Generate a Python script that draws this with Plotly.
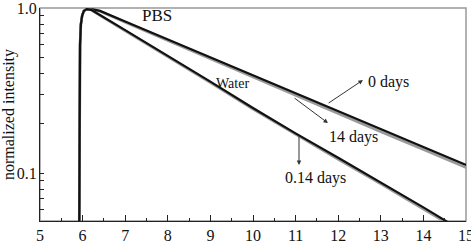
import math
import plotly.graph_objects as go

pbs_t = [5.92, 5.925, 5.93, 5.94, 5.96, 5.99, 6.03, 6.1, 6.2, 6.3, 6.41, 7, 8, 9, 10, 11, 12, 13, 14, 15]
pbs_0d = [0.04, 0.15, 0.35, 0.6, 0.8, 0.9, 0.96, 0.985, 0.985, 0.975, 0.96, 0.828, 0.645, 0.502, 0.392, 0.305, 0.238, 0.185, 0.144, 0.112]
pbs_14d = [0.04, 0.15, 0.35, 0.6, 0.8, 0.9, 0.96, 0.985, 0.985, 0.975, 0.955, 0.82, 0.635, 0.492, 0.384, 0.297, 0.230, 0.178, 0.139, 0.108]

water_t = [5.92, 5.925, 5.93, 5.94, 5.96, 5.99, 6.03, 6.1, 6.2, 6.29, 7, 8, 9, 10, 11, 12, 13, 14, 14.6, 14.8]
water_0d = [0.04, 0.15, 0.35, 0.6, 0.8, 0.9, 0.96, 0.985, 0.975, 0.946, 0.735, 0.515, 0.358, 0.248, 0.174, 0.124, 0.088, 0.062, 0.050, 0.046]
water_14d = [0.04, 0.15, 0.35, 0.6, 0.8, 0.9, 0.96, 0.985, 0.975, 0.94, 0.727, 0.508, 0.353, 0.244, 0.171, 0.121, 0.086, 0.061, 0.049, 0.045]

y_ticks = [0.05, 0.06, 0.07, 0.08, 0.09, 0.1, 0.2, 0.3, 0.4, 0.5, 0.6, 0.7, 0.8, 0.9, 1.0]
y_labels = ["", "", "", "", "", "0.1", "", "", "", "", "", "", "", "", "1.0"]
x_ticks = [5, 6, 7, 8, 9, 10, 11, 12, 13, 14, 15]

font_family = "Liberation Serif"
L = math.log10

fig = go.Figure()
fig.add_trace(go.Scatter(x=pbs_t, y=pbs_14d, mode="lines", line=dict(color="#9a9a9a", width=2.6), name="PBS 14 days"))
fig.add_trace(go.Scatter(x=pbs_t, y=pbs_0d, mode="lines", line=dict(color="#111111", width=2.2), name="PBS 0 days"))
fig.add_trace(go.Scatter(x=water_t, y=water_14d, mode="lines", line=dict(color="#9a9a9a", width=2.6), name="Water 14 days"))
fig.add_trace(go.Scatter(x=water_t, y=water_0d, mode="lines", line=dict(color="#111111", width=2.2), name="Water 0 days"))

# Gray frame (top/right)
fig.add_shape(type="rect", xref="paper", yref="paper", x0=0, x1=1, y0=0, y1=1,
              line=dict(color="#999999", width=1.5), layer="below")

fig.update_layout(
    width=471, height=248,
    margin=dict(l=40, r=5, t=8, b=27),
    paper_bgcolor="white", plot_bgcolor="white",
    showlegend=False,
    font=dict(family=font_family, color="#111111"),
    xaxis=dict(range=[5, 15], tickvals=x_ticks, ticks="inside", ticklen=6, tickcolor="#222",
               showline=True, linecolor="#222", linewidth=1.3, showgrid=False, zeroline=False,
               automargin=False, ticklabelstandoff=0, ticklabeloverflow="allow",
               tickfont=dict(size=16, family=font_family),
               minor=dict(dtick=0.5, tick0=5, ticks="inside", ticklen=3, tickcolor="#222", showgrid=False)),
    yaxis=dict(type="log", range=[-1.29, 0], tickvals=y_ticks, ticktext=y_labels,
               ticks="inside", ticklen=4, tickcolor="#222",
               showline=True, linecolor="#222", linewidth=1.3, showgrid=False, zeroline=False,
               automargin=False, ticklabelstandoff=-1, ticklabeloverflow="allow",
               tickfont=dict(size=16, family=font_family),
               title=dict(text="normalized intensity", font=dict(size=16, family=font_family), standoff=0)),
)

ann_font = dict(family=font_family, size=16, color="#111111")
fig.add_annotation(x=7.75, y=L(0.907), text="PBS", showarrow=False, font=dict(family=font_family, size=17, color="#111111"))
fig.add_annotation(x=9.53, y=L(0.351), text="Water", showarrow=False, font=dict(family=font_family, size=14, color="#111111"))
fig.add_annotation(x=13.17, y=L(0.356), text="0 days", showarrow=False, font=ann_font)
fig.add_annotation(x=12.35, y=L(0.165), text="14 days", showarrow=False, font=ann_font)
fig.add_annotation(x=11.46, y=L(0.093), text="0.14 days", showarrow=False, font=ann_font)

# Arrows
fig.add_annotation(x=12.58, y=L(0.366), ax=11.74, ay=L(0.262), xref="x", yref="y", axref="x", ayref="y",
                   text="", showarrow=True, arrowhead=2, arrowsize=0.9, arrowwidth=1, arrowcolor="#333")
fig.add_annotation(x=11.76, y=L(0.201), ax=10.94, ay=L(0.289), xref="x", yref="y", axref="x", ayref="y",
                   text="", showarrow=True, arrowhead=2, arrowsize=0.9, arrowwidth=1, arrowcolor="#333")
fig.add_annotation(x=11.08, y=L(0.112), ax=11.08, ay=L(0.172), xref="x", yref="y", axref="x", ayref="y",
                   text="", showarrow=True, arrowhead=2, arrowsize=0.9, arrowwidth=1, arrowcolor="#333")

fig.write_html("out.html", config={"displayModeBar": False},
               post_script="document.body.style.margin='0';document.body.style.overflow='hidden';")
